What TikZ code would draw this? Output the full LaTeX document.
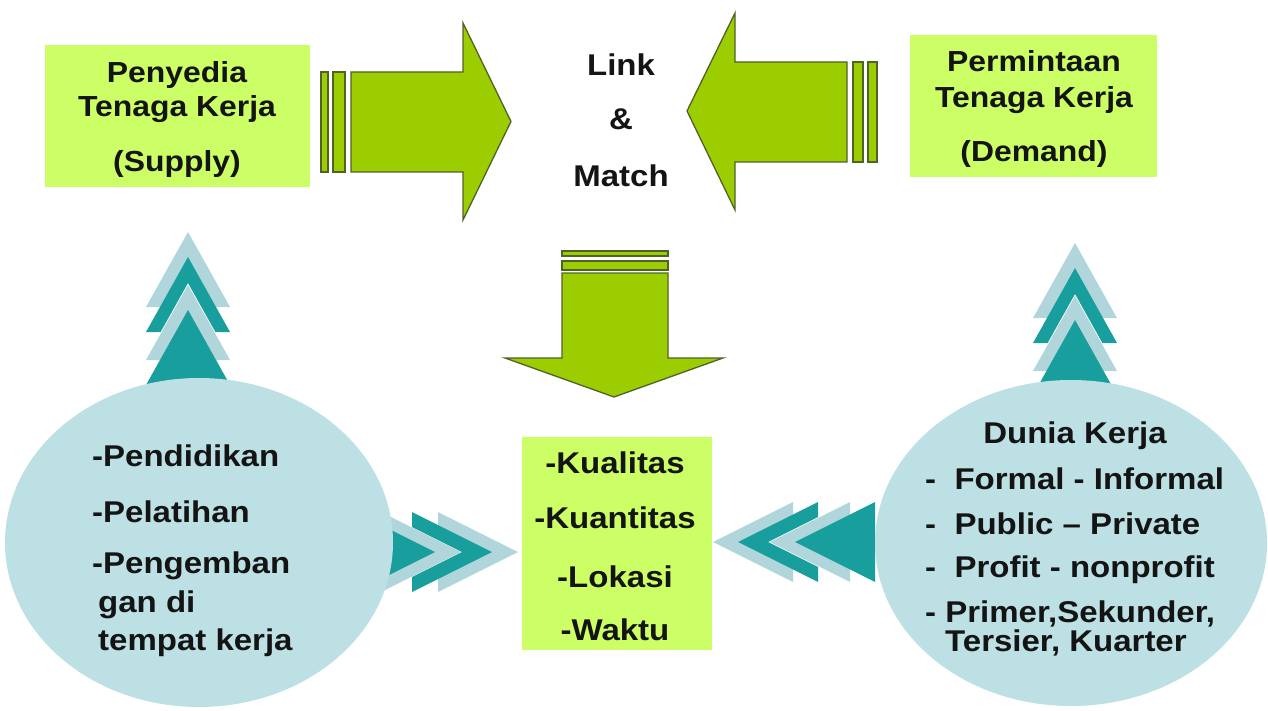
\documentclass[tikz,border=0pt]{standalone}
\usepackage{fontspec}
\setmainfont{Liberation Sans}[FakeStretch=1.1]
\usetikzlibrary{shapes.geometric}

\definecolor{boxfill}{RGB}{204,255,102}
\definecolor{arrowfill}{RGB}{155,205,0}
\definecolor{arrowline}{RGB}{79,98,40}
\definecolor{tealdark}{RGB}{24,158,156}
\definecolor{tealpale}{RGB}{176,214,219}
\definecolor{bubble}{RGB}{188,224,228}
\definecolor{ink}{RGB}{20,20,20}

\tikzset{
  % chevrons and triangles, apex at the pic origin
  chevU/.pic={\fill[#1] (0,0) -- (42,75) -- (27.4,75) -- (0,26) -- (-27.4,75) -- (-42,75) -- cycle;},
  triU/.pic={\fill[#1] (0,0) -- (42,75) -- (-42,75) -- cycle;},
  chevR/.pic={\fill[#1] (0,0) -- (-80,-40) -- (-80,-25) -- (-30,0) -- (-80,25) -- (-80,40) -- cycle;},
  triR/.pic={\fill[#1] (0,0) -- (-80,-40) -- (-80,40) -- cycle;},
  chevL/.pic={\fill[#1] (0,0) -- (80,-40) -- (80,-25) -- (30,0) -- (80,25) -- (80,40) -- cycle;},
  triL/.pic={\fill[#1] (0,0) -- (80,-40) -- (80,40) -- cycle;},
}

\begin{document}
\begin{tikzpicture}[x=1pt,y=-1pt,
  txt/.style={font=\fontsize{30}{36}\selectfont\bfseries, text=ink, inner sep=0pt},
  toptxt/.style={txt, font=\fontsize{29}{35}\selectfont\bfseries},
  panel/.style={fill=boxfill, draw=none, inner sep=0pt, anchor=north west},
  bigarrow/.style={fill=arrowfill, draw=arrowline, line width=1.3pt, line join=miter},
  bubblenode/.style={ellipse, fill=bubble, inner sep=0pt},
]
\useasboundingbox (0,0) rectangle (1268,711);

% teal chevrons pointing up to the top boxes
\pic at (188,232) {chevU=tealpale};
\pic at (188,257) {chevU=tealdark};
\pic at (188,285) {triU=tealpale};
\pic at (188,310) {triU=tealdark};
\pic at (1075,243) {chevU=tealpale};
\pic at (1075,268) {chevU=tealdark};
\pic at (1075,296) {triU=tealpale};
\pic at (1075,320) {triU=tealdark};

% teal chevrons pointing to the middle box
\pic at (518,552) {chevR=tealpale};
\pic at (492,552) {chevR=tealdark};
\pic at (461,552) {triR=tealpale};
\pic at (435,552) {triR=tealdark};
\pic at (713,542) {chevL=tealpale};
\pic at (738,542) {chevL=tealdark};
\pic at (770,542) {triL=tealpale};
\pic at (795,542) {triL=tealdark};

% bubbles
\node[bubblenode, minimum width=388pt, minimum height=329pt] (left) at (199,542.5) {};
\node[bubblenode, minimum width=392pt, minimum height=326pt] (right) at (1071,543) {};

% boxes
\node[panel, minimum width=265pt, minimum height=142pt] (supply) at (45,45) {};
\node[panel, minimum width=247pt, minimum height=142pt] (demand) at (910,35) {};
\node[panel, minimum width=190pt, minimum height=213pt] (mid) at (522,437) {};

% green block arrows
\draw[bigarrow] (321,72) rectangle (328,172);
\draw[bigarrow] (333,72) rectangle (345,172);
\draw[bigarrow] (351,72) -- (463,72) -- (463,23) -- (511,121.5) -- (463,220) -- (463,172) -- (351,172) -- cycle;

\draw[bigarrow] (687,111) -- (735,13) -- (735,62) -- (847,62) -- (847,162) -- (735,162) -- (735,210) -- cycle;
\draw[bigarrow] (853,62) rectangle (863,162);
\draw[bigarrow] (868,62) rectangle (877,162);

\draw[bigarrow] (562,251) rectangle (668,256);
\draw[bigarrow] (562,261) rectangle (668,270);
\draw[bigarrow] (562,273) -- (668,273) -- (668,358) -- (723,358) -- (614,397) -- (505,358) -- (562,358) -- cycle;

% texts
\node[toptxt, anchor=base] (s1) at (177,83) {Penyedia};
\node[toptxt, anchor=base] (s2) at (177,117) {Tenaga Kerja};
\node[toptxt, anchor=base] (s3) at (177,172) {(Supply)};

\node[toptxt, anchor=base] (d1) at (1034,72) {Permintaan};
\node[toptxt, anchor=base] (d2) at (1034,108) {Tenaga Kerja};
\node[toptxt, anchor=base] (d3) at (1034,162) {(Demand)};

\node[txt, anchor=base] (lm1) at (621,76) {Link};
\node[txt, anchor=base] (lm2) at (621,130) {\&};
\node[txt, anchor=base] (lm3) at (621,187) {Match};

\node[txt, anchor=base] (m1) at (615,473) {-Kualitas};
\node[txt, anchor=base] (m2) at (615,528) {-Kuantitas};
\node[txt, anchor=base] (m3) at (615,587) {-Lokasi};
\node[txt, anchor=base] (m4) at (615,640) {-Waktu};

\node[txt, anchor=base west] (l1) at (92,466) {-Pendidikan};
\node[txt, anchor=base west] (l2) at (92,522) {-Pelatihan};
\node[txt, anchor=base west] (l3) at (92,573) {-Pengemban};
\node[txt, anchor=base west] (l4) at (98,612) {gan di};
\node[txt, anchor=base west] (l5) at (98,650) {tempat kerja};

\node[txt, anchor=base] (r0) at (1075,443) {Dunia Kerja};
\node[txt, anchor=base west] (r1) at (925,489) {-~~Formal - Informal};
\node[txt, anchor=base west] (r2) at (925,534) {-~~Public – Private};
\node[txt, anchor=base west] (r3) at (925,577) {-~~Profit - nonprofit};
\node[txt, anchor=base west] (r4) at (925,622) {-~Primer,Sekunder,};
\node[txt, anchor=base west] (r5) at (945,651) {Tersier, Kuarter};
\end{tikzpicture}
\end{document}
